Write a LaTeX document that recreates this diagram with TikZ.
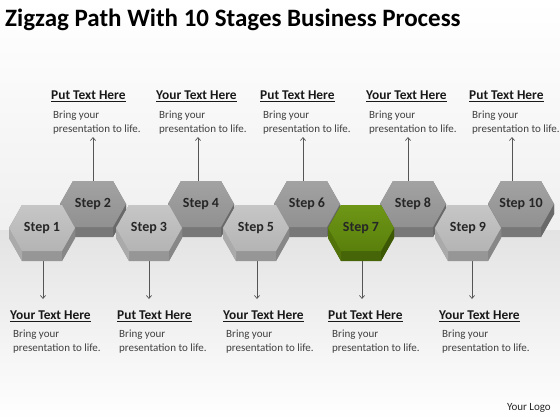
\documentclass[tikz,border=0pt]{standalone}
\usepackage{fontspec}
\setmainfont{Carlito}
\usetikzlibrary{arrows.meta}
\definecolor{oddtop}{RGB}{198,198,198}
\definecolor{oddtopb}{RGB}{180,180,180}
\definecolor{oddside}{RGB}{150,150,150}
\definecolor{oddsideL}{RGB}{170,170,170}
\definecolor{oddsideR}{RGB}{135,135,135}
\definecolor{evtop}{RGB}{162,162,162}
\definecolor{evtopb}{RGB}{145,145,145}
\definecolor{evside}{RGB}{120,120,120}
\definecolor{evsideL}{RGB}{135,135,135}
\definecolor{evsideR}{RGB}{105,105,105}
\definecolor{grtop}{RGB}{110,150,22}
\definecolor{grtopb}{RGB}{90,128,12}
\definecolor{grside}{RGB}{70,100,8}
\definecolor{grsideL}{RGB}{82,115,10}
\definecolor{grsideR}{RGB}{60,88,5}
\definecolor{txtgrey}{RGB}{64,64,64}
\definecolor{arrgrey}{RGB}{85,85,85}
% #1 name, #2 x, #3 y, #4 colour prefix, #5 label
\newcommand\hexprism[5]{%
  \begin{scope}[shift={(#2,#3)}]
    \fill[#4side] (-33,0) -- (-20,-23) -- (20,-23) -- (33,0) -- (33,10) -- (20,33) -- (-20,33) -- (-33,10) -- cycle;
    \fill[#4sideL] (-33,0) -- (-20,23) -- (-20,33) -- (-33,10) -- cycle;
    \fill[#4sideR] (33,0) -- (20,23) -- (20,33) -- (33,10) -- cycle;
    \shade[top color=#4top, bottom color=#4topb] (-33,0) -- (-20,-23) -- (20,-23) -- (33,0) -- (20,23) -- (-20,23) -- cycle;
    \node[steptext] (#1) at (0,0) {#5};
  \end{scope}}
\begin{document}
\begin{tikzpicture}[x=1pt,y=-1pt,
  steptext/.style={font=\fontsize{14}{16}\selectfont\bfseries, text=black!85, inner sep=0pt},
  ttl/.style={font=\fontsize{13.4}{15}\selectfont\bfseries, text=black!90, anchor=west, inner sep=0pt},
  body/.style={font=\fontsize{11}{13.5}\selectfont, text=txtgrey, align=left, anchor=north west, inner sep=0pt},
  arr/.style={draw=arrgrey, line width=0.7pt, -{Straight Barb[length=3pt,width=5pt]}}]
\useasboundingbox (0,0) rectangle (560,420);
% background
\shade[top color=white, bottom color=black!6] (0,0) rectangle (560,230);
\shade[top color=black!11, bottom color=white] (0,230) rectangle (560,420);
% title
\node[font=\fontsize{25}{30}\selectfont\bfseries, anchor=west, inner sep=0pt] (title) at (5,20) {Zigzag Path With 10 Stages Business Process};
\node[font=\fontsize{11}{13}\selectfont, text=black!85, anchor=east, inner sep=0pt] (logo) at (551,408) {Your Logo};
% arrow end coordinates
\coordinate (u2) at (93,183); \coordinate (v2) at (93,137);
\coordinate (u4) at (198,183); \coordinate (v4) at (198,137);
\coordinate (u6) at (303,183); \coordinate (v6) at (303,137);
\coordinate (u8) at (408,183); \coordinate (v8) at (408,137);
\coordinate (u10) at (512,183); \coordinate (v10) at (512,137);
\coordinate (u1) at (43,255); \coordinate (v1) at (43,299);
\coordinate (u3) at (149,255); \coordinate (v3) at (149,299);
\coordinate (u5) at (257,255); \coordinate (v5) at (257,299);
\coordinate (u7) at (362,255); \coordinate (v7) at (362,299);
\coordinate (u9) at (472,255); \coordinate (v9) at (472,299);
\foreach \i in {2,4,6,8,10,1,3,5,7,9} {\draw[arr] (u\i) -- (v\i);}
% even (upper) hexagons
\hexprism{s2}{93}{204}{ev}{Step 2}
\hexprism{s4}{201}{204}{ev}{Step 4}
\hexprism{s6}{307}{204}{ev}{Step 6}
\hexprism{s8}{413}{204}{ev}{Step 8}
\hexprism{s10}{521}{204}{ev}{Step 10}
% odd (lower) hexagons
\hexprism{s1}{42}{228}{odd}{Step 1}
\hexprism{s3}{149}{228}{odd}{Step 3}
\hexprism{s5}{256}{228}{odd}{Step 5}
\hexprism{s7}{361}{228}{gr}{Step 7}
\hexprism{s9}{468}{228}{odd}{Step 9}
% top labels
\node[ttl] (t2) at (51,96) {\underline{Put Text Here}};
\node[body] (b2) at (53,111) {Bring your\\presentation to life.};
\node[ttl] (t4) at (156,96) {\underline{Your Text Here}};
\node[body] (b4) at (159,111) {Bring your\\presentation to life.};
\node[ttl] (t6) at (260,96) {\underline{Put Text Here}};
\node[body] (b6) at (263,111) {Bring your\\presentation to life.};
\node[ttl] (t8) at (366,96) {\underline{Your Text Here}};
\node[body] (b8) at (369,111) {Bring your\\presentation to life.};
\node[ttl] (t10) at (469,96) {\underline{Put Text Here}};
\node[body] (b10) at (472,111) {Bring your\\presentation to life.};
% bottom labels
\node[ttl] (t1) at (10,316) {\underline{Your Text Here}};
\node[body] (b1) at (13,330) {Bring your\\presentation to life.};
\node[ttl] (t3) at (117,316) {\underline{Put Text Here}};
\node[body] (b3) at (119,330) {Bring your\\presentation to life.};
\node[ttl] (t5) at (223,316) {\underline{Your Text Here}};
\node[body] (b5) at (226,330) {Bring your\\presentation to life.};
\node[ttl] (t7) at (328,316) {\underline{Put Text Here}};
\node[body] (b7) at (332,330) {Bring your\\presentation to life.};
\node[ttl] (t9) at (439,316) {\underline{Your Text Here}};
\node[body] (b9) at (442,330) {Bring your\\presentation to life.};
\end{tikzpicture}
\end{document}
